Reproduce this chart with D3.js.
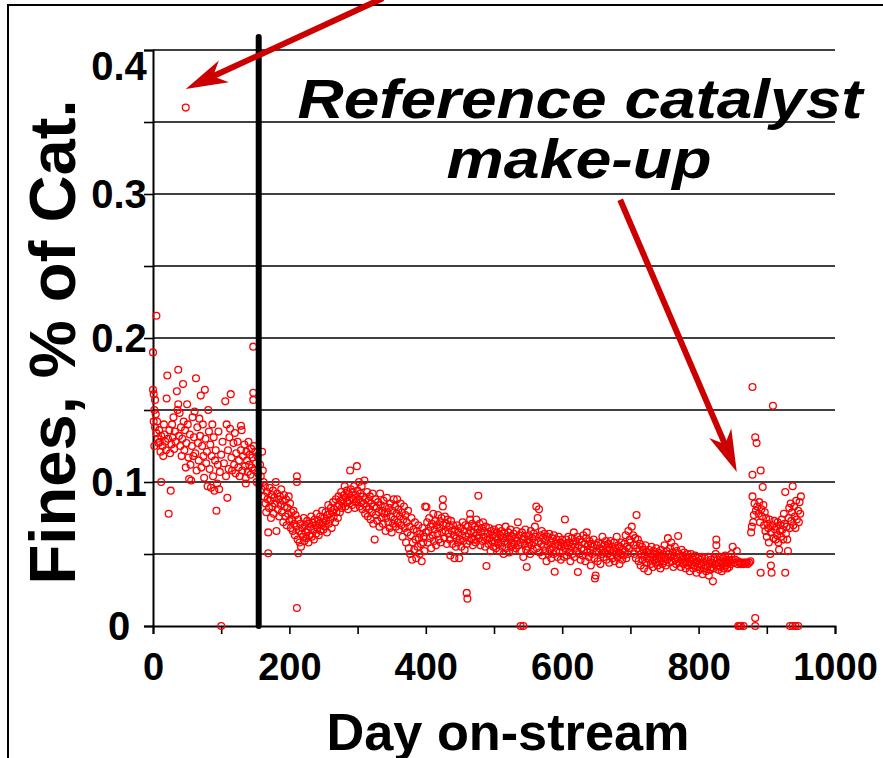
<!DOCTYPE html>
<html><head><meta charset="utf-8">
<script src="https://cdn.jsdelivr.net/npm/d3@7"></script>
<style>html,body{margin:0;padding:0;background:#fff;}svg{display:block;font-family:"Liberation Sans",Arial,sans-serif;}</style>
</head><body><svg id="c" width="883" height="758"></svg>
<script>
// ---------- data ----------
const xTicks = [0,100,200,300,400,500,600,700,800,900,1000];
const xLabels = [0,200,400,600,800,1000];
const yTicks = [0,0.05,0.1,0.15,0.2,0.25,0.3,0.35,0.4];
const yLabels = [0,0.1,0.2,0.3,0.4];
const yLabelText = ["0","0.1","0.2","0.3","0.4"];

const startupPts = [[48,0.360],[0,0.190],[5,0.2155],[0,0.164],[1,0.161],[3,0.157],[2,0.15],[4,0.147],[6,0.142],[1,0.142],[3,0.138],[5,0.134],[7,0.13],[8,0.127],[2,0.125],[9,0.136],[10,0.128],[11,0.121],[12,0.1],[12,0.132],[14,0.125],[15,0.118],[16,0.14],[17,0.133],[18,0.128],[19,0.122],[20,0.158],[21,0.174],[22,0.13],[23,0.078],[24,0.136],[25,0.12],[26,0.094],[27,0.126],[28,0.14],[29,0.131],[30,0.145],[31,0.123],[32,0.135],[33,0.128],[35,0.163],[36,0.15],[37,0.178],[37,0.154],[38,0.132],[39,0.148],[40,0.125],[41,0.138],[42,0.118],[43,0.13],[44,0.168],[45,0.142],[46,0.122],[47,0.136],[48,0.11],[49,0.127],[50,0.154],[51,0.14],[52,0.117],[53,0.102],[54,0.133],[55,0.112],[56,0.101],[57,0.125],[58,0.145],[59,0.118],[60,0.131],[61,0.149],[62,0.12],[63,0.172],[64,0.108],[65,0.138],[66,0.127],[67,0.115],[68,0.144],[69,0.132],[70,0.16],[71,0.11],[72,0.125],[73,0.14],[74,0.118],[75,0.103],[76,0.164],[77,0.13],[78,0.113],[79,0.121],[80,0.097],[81,0.15],[82,0.135],[83,0.109],[84,0.126],[85,0.096],[86,0.118],[87,0.14],[88,0.104],[89,0.131],[90,0.094],[91,0.115],[92,0.122],[93,0.08],[94,0.099],[95,0.112],[96,0.135],[97,0.095],[98,0.107],[100,0.0],[100,0.119],[102,0.128],[104,0.113],[106,0.156],[107,0.104],[108,0.14],[109,0.089],[110,0.122],[111,0.109],[112,0.131],[113,0.137],[114,0.161],[115,0.117],[116,0.108],[118,0.127],[119,0.112],[120,0.134],[121,0.106],[122,0.12],[124,0.128],[125,0.11],[126,0.115],[127,0.104],[129,0.139],[129,0.122],[130,0.136],[131,0.108],[132,0.118],[134,0.126],[135,0.111],[136,0.099],[136,0.103],[137,0.121],[138,0.115],[139,0.107],[140,0.128],[141,0.112],[142,0.119],[143,0.105],[144,0.123],[145,0.11],[146,0.117],[147,0.194],[147,0.162],[147,0.157],[148,0.125],[149,0.108],[150,0.121],[151,0.113],[152,0.1],[153,0.118],[154,0.106]];

const earlyPts = [[156,0.098],[157,0.112],[158,0.104],[159,0.095],[160,0.121],[161,0.108],[162,0.1],[163,0.09],[164,0.097],[165,0.085],[166,0.079],[167,0.093],[168,0.088],[169,0.065],[169,0.0505],[170,0.082],[171,0.096],[172,0.087],[173,0.075],[174,0.091],[175,0.083],[176,0.094],[177,0.078],[178,0.089],[179,0.085],[180,0.1],[181,0.066],[182,0.092],[183,0.081],[184,0.088],[185,0.076],[186,0.09],[187,0.084],[188,0.095],[189,0.079],[190,0.087],[191,0.072],[192,0.091],[193,0.083],[194,0.076],[195,0.088],[196,0.07],[197,0.082],[198,0.078],[199,0.09],[200,0.073],[201,0.085],[202,0.068],[203,0.079],[204,0.074],[205,0.066],[206,0.08],[207,0.071],[208,0.063],[209,0.077],[210,0.069],[211,0.104],[211,0.1],[211,0.0125],[212,0.06],[213,0.0505],[213,0.074],[214,0.066],[215,0.058],[216,0.071],[217,0.055],[218,0.064],[219,0.068],[220,0.062],[221,0.075],[222,0.059],[223,0.07],[224,0.065],[225,0.061],[226,0.073],[227,0.067],[228,0.058],[229,0.071],[230,0.063],[231,0.069],[232,0.076],[233,0.062],[234,0.072],[235,0.067],[236,0.06],[237,0.074],[238,0.07],[239,0.064],[240,0.078],[241,0.068],[242,0.073],[243,0.063],[244,0.071],[245,0.076],[246,0.066],[247,0.07],[248,0.08],[249,0.072],[250,0.067],[251,0.075],[252,0.069],[253,0.079],[254,0.073],[255,0.065],[256,0.077],[257,0.084],[258,0.071],[259,0.078],[260,0.074],[261,0.082],[262,0.068],[263,0.079],[264,0.086],[265,0.076],[266,0.081],[267,0.072],[268,0.088],[269,0.079],[270,0.083],[271,0.075],[272,0.09],[273,0.084],[274,0.079],[275,0.087],[276,0.093],[277,0.082],[278,0.088],[279,0.085],[280,0.091],[281,0.097],[282,0.083],[283,0.089],[284,0.094],[285,0.086],[286,0.081],[287,0.092],[288,0.087],[289,0.108],[290,0.095],[291,0.089],[292,0.084],[293,0.093],[294,0.088],[295,0.097],[296,0.082],[297,0.091],[298,0.086],[299,0.111],[300,0.094]];

const midPts = [[301,0.088],[302,0.1],[303,0.083],[304,0.092],[305,0.086],[306,0.097],[307,0.081],[308,0.09],[309,0.085],[310,0.101],[311,0.078],[312,0.088],[313,0.083],[314,0.093],[315,0.076],[316,0.087],[317,0.081],[318,0.09],[319,0.074],[320,0.085],[321,0.079],[322,0.092],[323,0.071],[324,0.083],[325,0.06],[326,0.088],[327,0.077],[328,0.082],[329,0.073],[330,0.086],[331,0.079],[332,0.069],[333,0.092],[334,0.084],[335,0.075],[336,0.08],[337,0.071],[338,0.087],[339,0.078],[340,0.083],[341,0.066],[342,0.075],[343,0.089],[344,0.079],[345,0.072],[346,0.082],[347,0.068],[348,0.085],[349,0.076],[350,0.065],[351,0.08],[352,0.071],[353,0.088],[354,0.074],[355,0.083],[356,0.069],[357,0.078],[358,0.088],[359,0.072],[360,0.081],[361,0.067],[362,0.076],[363,0.085],[364,0.07],[365,0.079],[366,0.062],[367,0.074],[368,0.083],[369,0.068],[370,0.077],[371,0.058],[372,0.072],[373,0.065],[374,0.08],[375,0.054],[376,0.069],[377,0.05],[378,0.063],[379,0.075],[380,0.046],[381,0.058],[382,0.067],[383,0.053],[384,0.072],[385,0.06],[386,0.047],[387,0.066],[388,0.055],[389,0.07],[390,0.061],[391,0.05],[392,0.064],[393,0.057],[394,0.045],[395,0.068],[396,0.058],[397,0.062],[398,0.052],[399,0.083],[400,0.065],
[401,0.0826],[402,0.072],[403,0.058],[404,0.066],[405,0.075],[406,0.061],[407,0.069],[408,0.054],[409,0.071],[410,0.063],[411,0.078],[412,0.059],[413,0.067],[414,0.073],[415,0.056],[416,0.07],[417,0.064],[418,0.077],[419,0.06],[420,0.068],[421,0.072],[422,0.058],[423,0.075],[424,0.065],[425,0.088],[425,0.083],[426,0.07],[427,0.061],[428,0.076],[429,0.066],[430,0.071],[431,0.057],[432,0.074],[433,0.064],[434,0.069],[435,0.06],[436,0.049],[437,0.073],[438,0.066],[439,0.057],[440,0.07],[441,0.063],[442,0.047],[443,0.067],[444,0.055],[445,0.061],[446,0.07],[447,0.058],[448,0.065],[449,0.047],[450,0.06],[451,0.068],[452,0.055],[453,0.063],[454,0.072],[455,0.059],[456,0.066],[457,0.053],[458,0.07],[459,0.062],[460,0.023],[461,0.019],[460,0.057],[462,0.069],[463,0.064],[464,0.059],[465,0.078],[465,0.074],[466,0.066],[467,0.061],[468,0.071],[469,0.056],[470,0.065],[471,0.06],[472,0.069],[473,0.058],[474,0.074],[475,0.063],[476,0.067],[477,0.0905],[478,0.061],[479,0.071],[480,0.056],[481,0.065],[482,0.068],[483,0.059],[484,0.072],[485,0.062],[486,0.066],[487,0.055],[488,0.069],[489,0.0417],[490,0.06],[491,0.064],[492,0.057],[493,0.068],[494,0.061],[495,0.052],[496,0.066],[497,0.059],[498,0.063],[499,0.055],[500,0.067],[501,0.058],[502,0.062],[503,0.054],[504,0.065],[505,0.06],[506,0.057],[507,0.068],[508,0.052],[509,0.063],[510,0.058],[511,0.066],[512,0.055],[513,0.061],[514,0.05],[515,0.064],[516,0.059],[517,0.069],[518,0.054],[519,0.062],[520,0.057],[521,0.065],[522,0.051],[523,0.06],[524,0.067],[525,0.055],[526,0.062],[527,0.058],[528,0.052],[529,0.064],[530,0.057],[531,0.061],[532,0.054],[533,0.066],[534,0.059],[535,0.072],[536,0.056],[537,0.063],[539,0.0],[543,0.0],[539,0.058],[540,0.052],[541,0.065],[542,0.06],[543,0.048],[544,0.062],[545,0.057],[546,0.067],[547,0.053],[548,0.041],[549,0.06],[550,0.055],[551,0.063],[552,0.058],[553,0.05],[554,0.066],[555,0.056],[556,0.061],[557,0.053],[558,0.064],[559,0.058],[560,0.069]];

const latePts = [[561,0.062],[562,0.083],[563,0.054],[564,0.075],[565,0.059],[566,0.081],[567,0.051],[568,0.063],[569,0.057],[570,0.066],[571,0.049],[572,0.061],[573,0.055],[574,0.064],[575,0.052],[576,0.059],[577,0.045],[578,0.062],[579,0.056],[580,0.05],[581,0.064],[582,0.053],[583,0.058],[584,0.047],[585,0.061],[586,0.055],[587,0.05],[588,0.063],[589,0.0377],[590,0.057],[591,0.052],[592,0.06],[593,0.048],[594,0.056],[595,0.062],[596,0.051],[597,0.058],[598,0.046],[599,0.055],[600,0.06],[601,0.052],[602,0.057],[603,0.048],[604,0.074],[605,0.054],[606,0.06],[607,0.049],[608,0.056],[609,0.062],[610,0.051],[611,0.058],[612,0.045],[613,0.055],[614,0.061],[615,0.05],[616,0.057],[617,0.065],[618,0.048],[619,0.055],[620,0.059],[621,0.052],[622,0.062],[623,0.0375],[624,0.056],[625,0.05],[626,0.06],[627,0.046],[628,0.054],[629,0.058],[630,0.049],[631,0.063],[632,0.053],[633,0.057],[634,0.045],[635,0.061],[636,0.065],[637,0.051],[638,0.056],[639,0.048],[640,0.059],[641,0.053],[642,0.042],[643,0.057],[644,0.05],[645,0.055],[646,0.06],[647,0.047],[648,0.033],[649,0.035],[650,0.052],[651,0.056],[652,0.045],[653,0.058],[654,0.051],[655,0.054],[656,0.043],[657,0.057],[658,0.05],[659,0.062],[660,0.053],[661,0.048],[662,0.056],[663,0.051],[664,0.059],[665,0.046],[666,0.054],[667,0.05],[668,0.057],[669,0.044],[670,0.053],[671,0.059],[672,0.049],[673,0.055],[674,0.047],[675,0.052],[676,0.058],[677,0.045],[678,0.054],[679,0.05],[680,0.062],[681,0.048],[682,0.056],[683,0.051],[684,0.043],[685,0.055],[686,0.05],[687,0.058],[688,0.046],[689,0.053],[690,0.049],[691,0.057],[692,0.052],[693,0.063],[694,0.047],[695,0.055],[696,0.05],[697,0.066],[698,0.054],[699,0.06],[700,0.058],[702,0.069],[704,0.063],[709,0.077],
[705,0.056],[706,0.05],[707,0.061],[708,0.047],[710,0.054],[711,0.06],[712,0.045],[713,0.052],[714,0.057],[715,0.042],[716,0.05],[717,0.055],[718,0.046],[719,0.053],[720,0.04],[721,0.049],[722,0.056],[723,0.044],[724,0.051],[725,0.047],[726,0.038],[727,0.053],[728,0.046],[729,0.05],[730,0.043],[731,0.055],[732,0.048],[733,0.041],[734,0.052],[735,0.046],[736,0.05],[737,0.044],[738,0.054],[739,0.047],[740,0.042],[741,0.051],[742,0.045],[743,0.049],[744,0.04],[745,0.053],[746,0.047],[747,0.043],[748,0.05],[749,0.045],[750,0.056],[751,0.048],[752,0.042],[753,0.052],[754,0.046],[755,0.061],[756,0.05],[757,0.044],[758,0.054],[759,0.048],[760,0.058],[761,0.045],[762,0.051],[763,0.041],[764,0.049],[765,0.055],[766,0.046],[767,0.043],[768,0.052],[769,0.047],[770,0.0625],[771,0.05],[772,0.044],[773,0.048],[774,0.041],[775,0.053],[776,0.046],[777,0.049],[778,0.043],[779,0.051],[780,0.045],[781,0.04],[782,0.048],[783,0.044],[784,0.05],[785,0.042],[786,0.047],[787,0.038],[788,0.045],[789,0.05],[790,0.043],[791,0.047],[792,0.04],[793,0.046],[794,0.042],[795,0.049],[796,0.044],[797,0.037],[798,0.045],[799,0.041],[800,0.047],[801,0.043],[802,0.039],[803,0.046],[804,0.042],[805,0.048],[806,0.036],[807,0.044],[808,0.04],[809,0.047],[810,0.042],[811,0.038],[812,0.045],[813,0.041],[814,0.048],[815,0.035],[816,0.043],[817,0.039],[818,0.046],[819,0.041],[820,0.044],[821,0.031],[822,0.04],[823,0.047],[824,0.043],[825,0.05],[826,0.06],[826,0.056],[827,0.042],[828,0.046],[829,0.039],[830,0.044],[831,0.048],[832,0.041],[833,0.045],[834,0.038],[835,0.043],[836,0.047],[837,0.04],[838,0.044],[839,0.049],[840,0.042],[841,0.046],[842,0.04],[843,0.044],[844,0.048],[845,0.041],[846,0.045],[847,0.043],[848,0.05],[849,0.046],[850,0.055],[852,0.044],[854,0.046],[856,0.052],[857,0.043],[858,0.045],[860,0.044],[862,0.043],[864,0.044],[866,0.043],[868,0.044],[870,0.044],[872,0.043],[874,0.044],[876,0.045],
[858,0],[860,0],[862,0],[866,0]];

const makeupPts = [[879,0.166],[909,0.153],[883,0.131],[885,0.127],[879,0.105],[891,0.108],[894,0.0965],[879,0.090],[927,0.093],[938,0.097],[950,0.090],[877,0.065],[905,0.05],[918,0.053],[931,0.052],[891,0.037],[907,0.037],[927,0.037],[906,0.042],[883,0.0055],[883,0],[934,0],[938,0],[942,0],[946,0],
[882,0.085],[884,0.08],[886,0.083],[888,0.078],[889,0.086],[890,0.072],[892,0.081],[893,0.076],[895,0.084],[896,0.07],[897,0.079],[898,0.066],[899,0.075],[900,0.062],[901,0.071],[902,0.068],[903,0.058],[904,0.074],[906,0.065],[908,0.07],[910,0.061],[911,0.073],[912,0.067],[913,0.06],[914,0.069],[915,0.063],[916,0.072],[917,0.058],[919,0.066],[920,0.07],[921,0.062],[922,0.074],[923,0.067],[924,0.06],[925,0.078],[926,0.071],[928,0.064],[929,0.069],[930,0.06],[932,0.075],[933,0.082],[934,0.068],[935,0.085],[936,0.073],[937,0.079],[939,0.07],[940,0.083],[941,0.076],[942,0.068],[943,0.087],[944,0.074],[946,0.08],[947,0.072],[948,0.086],[949,0.078],[880,0.072],[881,0.077],[878,0.069]];

const makeupDay = 155;           // vertical marker line
const makeupTop = 0.409;
const arrowStart = {from:[337,0.436], to:[48,0.373]};
const arrowMakeup = {from:[685,0.296], to:[856,0.107]};
const noteLines = ["Reference catalyst","make-up"];

// ---------- chart ----------
const svg = d3.select("#c");
const x = d3.scaleLinear().domain([0,1000]).range([153,835]);
const y = d3.scaleLinear().domain([0,0.4]).range([626,50]);
const FONT = '"Liberation Sans",Arial,sans-serif';

// outer frame
svg.append("rect").attr("x",8).attr("y",5).attr("width",900).attr("height",800)
  .attr("fill","none").attr("stroke","#000").attr("stroke-width",2);

// gridlines
svg.append("g").selectAll("line").data(yTicks.filter(d=>d>0)).join("line")
  .attr("x1",x(0)).attr("x2",x(1000)).attr("y1",d=>y(d)).attr("y2",d=>y(d))
  .attr("stroke","#000").attr("stroke-width",1.6);

// y axis
const yAxis = svg.append("g").attr("transform",`translate(${x(0)},0)`)
  .call(d3.axisLeft(y).tickValues(yTicks).tickSize(9).tickFormat(""));
yAxis.select(".domain").attr("stroke-width",2);
yAxis.selectAll(".tick line").attr("stroke-width",1.6);
svg.append("g").selectAll("text").data(yLabels).join("text")
  .attr("x",119).attr("y",(d)=>y(d)+(d===0.4?16:0)).attr("dy","0.36em")
  .attr("text-anchor","middle").attr("font-family",FONT).attr("font-weight","bold")
  .attr("font-size",40).text((d,i)=>yLabelText[i]);

// x axis
const xAxis = svg.append("g").attr("transform",`translate(0,${y(0)})`)
  .call(d3.axisBottom(x).tickValues(xTicks).tickSize(8).tickFormat(d=>xLabels.includes(d)?d:""));
xAxis.select(".domain").attr("stroke-width",2);
xAxis.selectAll(".tick line").attr("stroke-width",1.6);
xAxis.selectAll(".tick text").attr("y",54).attr("dy",0)
  .attr("font-family",FONT).attr("font-weight","bold").attr("font-size",38).attr("fill","#000");

// axis titles
svg.append("text").attr("x",508).attr("y",750).attr("text-anchor","middle")
  .attr("font-family",FONT).attr("font-weight","bold").attr("font-size",52)
  .attr("textLength",363).attr("lengthAdjust","spacingAndGlyphs").text("Day on-stream");
svg.append("text").attr("transform","translate(75,342) rotate(-90)").attr("text-anchor","middle")
  .attr("font-family",FONT).attr("font-weight","bold").attr("font-size",64)
  .attr("textLength",485).attr("lengthAdjust","spacingAndGlyphs").text("Fines, % of Cat.");

// data points
const allPts = [].concat(startupPts, earlyPts, midPts, latePts, makeupPts);
svg.append("g").selectAll("circle").data(allPts).join("circle")
  .attr("cx",d=>x(d[0])).attr("cy",d=>y(d[1])).attr("r",3.4)
  .attr("fill","none").attr("stroke","#ff0000").attr("stroke-width",1.3);

// vertical make-up line
svg.append("line").attr("x1",x(makeupDay)).attr("x2",x(makeupDay))
  .attr("y1",y(0)).attr("y2",y(makeupTop))
  .attr("stroke","#000").attr("stroke-width",6).attr("stroke-linecap","round");

// arrows
function arrow(a){
  const x0=x(a.from[0]), y0=y(a.from[1]), x1=x(a.to[0]), y1=y(a.to[1]);
  const dx=x1-x0, dy=y1-y0, L=Math.hypot(dx,dy), ux=dx/L, uy=dy/L, px=-uy, py=ux;
  const HL=42, HW=12, NB=30;
  const g = svg.append("g");
  g.append("line").attr("x1",x0).attr("y1",y0).attr("x2",x1-ux*NB).attr("y2",y1-uy*NB)
    .attr("stroke","#cc0000").attr("stroke-width",6);
  const pts=[[x1,y1],[x1-ux*HL+px*HW,y1-uy*HL+py*HW],[x1-ux*NB,y1-uy*NB],[x1-ux*HL-px*HW,y1-uy*HL-py*HW]];
  g.append("polygon").attr("points",pts.map(p=>p.join(",")).join(" ")).attr("fill","#cc0000");
}
arrow(arrowStart); arrow(arrowMakeup);

// annotation
svg.append("text").attr("x",580).attr("y",118).attr("text-anchor","middle")
  .attr("font-family",FONT).attr("font-weight","bold").attr("font-style","italic").attr("font-size",56)
  .attr("textLength",565).attr("lengthAdjust","spacingAndGlyphs").text(noteLines[0]);
svg.append("text").attr("x",579).attr("y",178).attr("text-anchor","middle")
  .attr("font-family",FONT).attr("font-weight","bold").attr("font-style","italic").attr("font-size",56)
  .attr("textLength",265).attr("lengthAdjust","spacingAndGlyphs").text(noteLines[1]);
</script></body></html>
